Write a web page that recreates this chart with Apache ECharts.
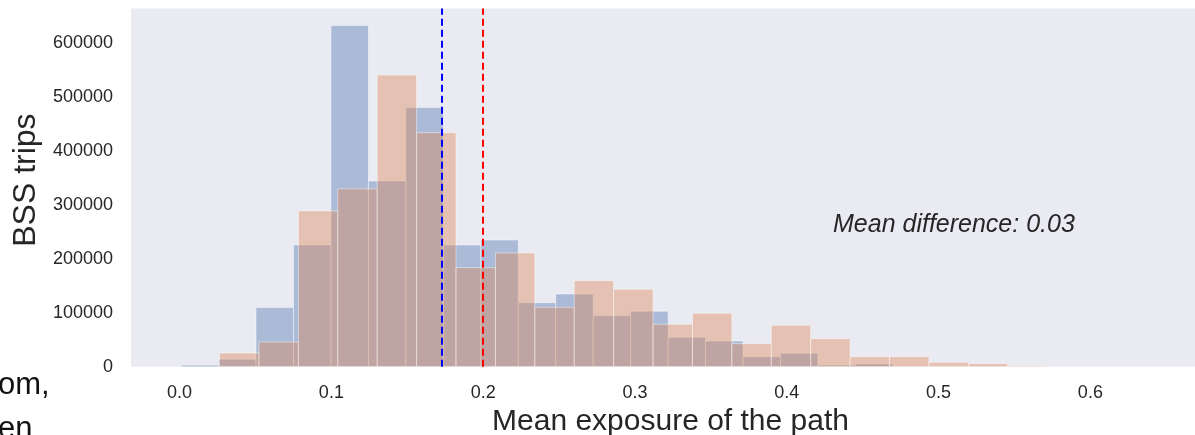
<!DOCTYPE html>
<html>
<head>
<meta charset="utf-8">
<title>BSS trips - mean exposure</title>
<script src="https://cdn.jsdelivr.net/npm/echarts@6/dist/echarts.min.js"></script>
<style>
  html, body { margin: 0; padding: 0; background: #fff; }
  #chart { width: 1195px; height: 435px; }
</style>
</head>
<body>
<div id="chart"></div>
<script>
// ============ data ============

const xTicks = [0, 0.1, 0.2, 0.3, 0.4, 0.5, 0.6]
const yTicks = [0, 100000, 200000, 300000, 400000, 500000, 600000]

// blue histogram (first distribution)
const blueStart = 0.001
const blueWidth = 0.02468
const blueCounts = [
  3000, 14000, 110000, 226000, 633000, 344600, 481000, 225800, 235000, 118700,
  134900, 94600, 103000, 54500, 47700, 18600, 24800, 3000, 5000,
]

// orange histogram (second distribution)
const orangeStart = 0.02635
const orangeWidth = 0.02596
const orangeCounts = [
  25400, 45800, 289000, 330000, 541000, 434100, 183700, 211000, 110200, 159600,
  143600, 78700, 99000, 42700, 76800, 52000, 18600, 18600, 8100, 5600, 1800,
]

const blueMean = 0.1727
const orangeMean = 0.1995
const annotation = 'Mean difference: 0.03'

// ============ helpers ============

const FONT = '"Liberation Sans", Arial, Helvetica, sans-serif'
const TEXT = '#262626'

function toBins(start, width, counts) {
  return counts.map((c, i) => [start + i * width, start + (i + 1) * width, c])
}

function histRenderer(fill) {
  return function (params, api) {
    const p0 = api.coord([api.value(0), 0])
    const p1 = api.coord([api.value(1), api.value(2)])
    return {
      type: 'rect',
      shape: { x: p0[0], y: p1[1], width: p1[0] - p0[0], height: p0[1] - p1[1] },
      style: { fill: fill, stroke: 'rgba(255,255,255,0.45)', lineWidth: 1 },
    }
  }
}

function meanLine(value, color) {
  return {
    silent: true,
    symbol: ['none', 'none'],
    precision: 5, // default of 2 would round the mean
    label: { show: false },
    animation: false,
    lineStyle: { color: color, type: [7, 4], width: 2 },
    data: [{ xAxis: value }],
  }
}

// ============ chart ============

const chart = echarts.init(document.getElementById('chart'))

chart.setOption({
  animation: false,
  backgroundColor: '#ffffff',
  grid: {
    left: 131,
    right: -15,
    top: 8.5,
    bottom: 68.3,
    outerBoundsMode: 'none',
    containLabel: false,
    show: true,
    backgroundColor: '#EAEAF2',
    borderWidth: 0,
  },
  xAxis: {
    type: 'value',
    min: -0.032,
    max: 0.6788,
    axisLine: { show: false },
    axisTick: { show: false, customValues: xTicks },
    splitLine: { show: false },
    axisLabel: {
      customValues: xTicks,
      formatter: (v) => v.toFixed(1),
      color: TEXT,
      fontFamily: FONT,
      fontSize: 18,
      margin: 17,
    },
    name: 'Mean exposure of the path',
    nameLocation: 'middle',
    nameGap: 38,
    nameTextStyle: { color: TEXT, fontFamily: FONT, fontSize: 30 },
  },
  yAxis: {
    type: 'value',
    min: 0,
    max: 664560,
    axisLine: { show: false },
    axisTick: { show: false, customValues: yTicks },
    splitLine: { show: false },
    axisLabel: {
      customValues: yTicks,
      formatter: (v) => String(v),
      color: TEXT,
      fontFamily: FONT,
      fontSize: 18,
      margin: 18,
    },
    name: 'BSS trips',
    nameLocation: 'middle',
    nameGap: 87,
    nameTextStyle: { color: TEXT, fontFamily: FONT, fontSize: 32, padding: [0, 0, 0, 15] },
  },
  series: [
    {
      name: 'blue',
      type: 'custom',
      renderItem: histRenderer('rgba(76,114,176,0.4)'),
      encode: { x: [0, 1], y: 2 },
      data: toBins(blueStart, blueWidth, blueCounts),
      markLine: meanLine(blueMean, '#0000ff'),
    },
    {
      name: 'orange',
      type: 'custom',
      renderItem: histRenderer('rgba(221,132,82,0.4)'),
      encode: { x: [0, 1], y: 2 },
      data: toBins(orangeStart, orangeWidth, orangeCounts),
      markLine: meanLine(orangeMean, '#ff0000'),
    },
  ],
  graphic: [
    {
      type: 'text',
      left: 833,
      top: 213,
      style: {
        text: annotation,
        fill: TEXT,
        font: 'italic 25px ' + FONT,
      },
    },
    // cut-off words from the surrounding document
    {
      type: 'text',
      left: -2,
      top: 370,
      style: { text: 'om,', fill: '#111', font: '31px ' + FONT },
    },
    {
      type: 'text',
      left: -2,
      top: 414,
      style: { text: 'en', fill: '#111', font: '31px ' + FONT },
    },
  ],
})

window.addEventListener('resize', () => chart.resize())
</script>
</body>
</html>
